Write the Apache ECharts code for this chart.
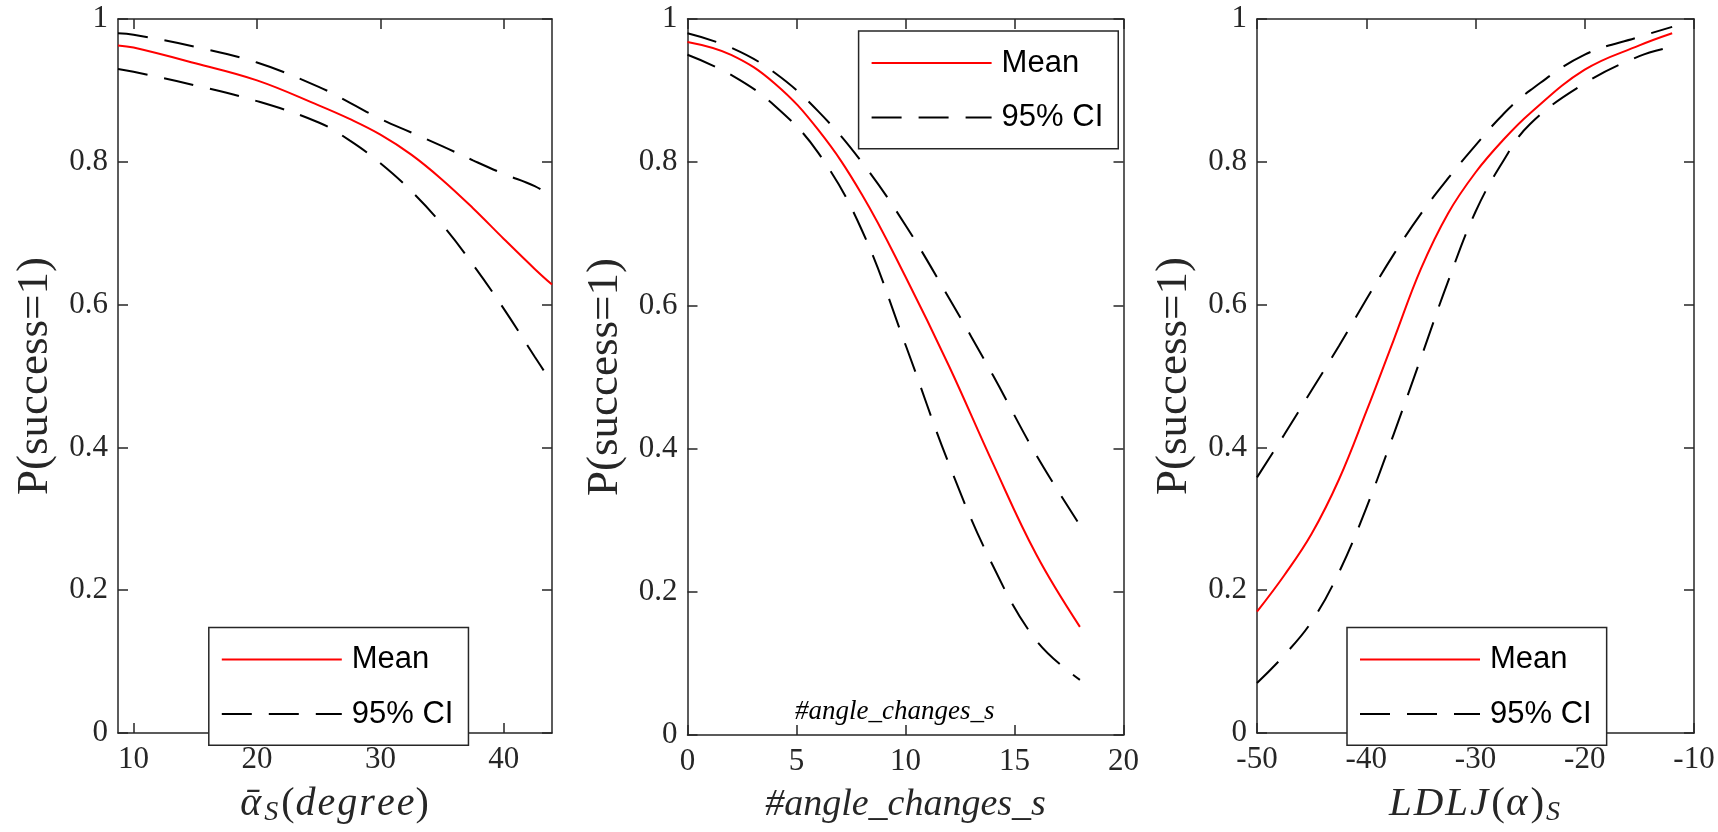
<!DOCTYPE html>
<html><head><meta charset="utf-8">
<script src="https://cdn.jsdelivr.net/npm/echarts@6/dist/echarts.min.js"></script>
<style>html,body{margin:0;padding:0;background:#fff}#c{width:1718px;height:832px}</style>
</head><body><div id="c"></div>
<script>
// ---------- Panel 1: mean angle ----------
const alphaX     = [8.74, 10, 15, 20, 25, 27.5, 30, 32.5, 35, 37.5, 40, 42.5, 43.9];
const alphaMean  = [0.963, 0.960, 0.938, 0.914, 0.879, 0.860, 0.838, 0.810, 0.775, 0.735, 0.692, 0.650, 0.628];
const alphaUpper = [0.980, 0.978, 0.961, 0.939, 0.905, 0.883, 0.860, 0.841, 0.822, 0.802, 0.783, 0.766, 0.751];
const alphaLower = [0.930, 0.926, 0.907, 0.885, 0.855, 0.830, 0.798, 0.759, 0.712, 0.656, 0.594, 0.527, 0.490];
// ---------- Panel 2: angle changes ----------
const angleX     = [0, 2, 4, 6, 8, 10, 12, 14, 16, 18];
const angleMean  = [0.968, 0.950, 0.910, 0.845, 0.755, 0.640, 0.515, 0.380, 0.252, 0.151];
const angleUpper = [0.980, 0.960, 0.925, 0.871, 0.800, 0.712, 0.610, 0.503, 0.391, 0.293];
const angleLower = [0.950, 0.922, 0.879, 0.813, 0.705, 0.545, 0.378, 0.237, 0.132, 0.077];
// ---------- Panel 3: LDLJ ----------
const ldljX      = [-50, -47.5, -45, -42.5, -40, -37.5, -35, -32.5, -30, -27.5, -25, -20, -15, -12];
const ldljMean   = [0.170, 0.221, 0.279, 0.355, 0.450, 0.550, 0.650, 0.728, 0.785, 0.830, 0.868, 0.929, 0.963, 0.980];
const ldljUpper  = [0.358, 0.418, 0.480, 0.542, 0.607, 0.670, 0.727, 0.777, 0.823, 0.866, 0.900, 0.950, 0.975, 0.989];
const ldljLower  = [0.070, 0.109, 0.156, 0.225, 0.315, 0.418, 0.525, 0.633, 0.730, 0.800, 0.853, 0.910, 0.948, 0.961];
// ---------- tick labels ----------
const xTicks1 = [10, 20, 30, 40];
const xTicks2 = [0, 5, 10, 15, 20];
const xTicks3 = [-50, -40, -30, -20, -10];
const xRange1 = [8.74, 43.9];
const xRange2 = [0, 20];
const xRange3 = [-50, -10];
const legendNames = ['Mean', '95% CI'];
const yLabel = 'P(success=1)';
const titleText = '#angle_changes_s';

const AX = '#262626';
const SERIF = '"Liberation Serif", "DejaVu Serif", serif';
const SANS = '"Liberation Sans", Arial, sans-serif';

const zip = (xs, ys) => xs.map((x, i) => [x, ys[i]]);

const gridDefs = [
  {left: 118, top: 19, width: 434, height: 716},
  {left: 687.5, top: 19, width: 436, height: 716},
  {left: 1257, top: 19, width: 437, height: 716}
];

function richFor(size) {
  return {
    m: {fontFamily: SERIF, fontSize: size, fontStyle: 'italic', color: AX, lineHeight: 46, verticalAlign: 'top'},
    k: {fontFamily: SERIF, fontSize: size, fontStyle: 'italic', color: AX, lineHeight: 46, verticalAlign: 'top', padding: [0, 2, 0, 0]},
    g: {fontFamily: SERIF, fontSize: size, fontStyle: 'normal', color: AX, lineHeight: 46, verticalAlign: 'top', padding: [0, 1, 0, 1]},
    s: {fontFamily: SERIF, fontSize: 28, fontStyle: 'italic', color: AX, lineHeight: 46, padding: [15, 2, 0, 1], verticalAlign: 'top'}
  };
}
const xNames = [
  '{k|ᾱ}{s|S}{g|(}{k|d}{k|e}{k|g}{k|r}{k|e}{m|e}{g|)}',
  '{m|#angle_changes_s}',
  '{k|L}{k|D}{k|L}{k|J}{g|(}{k|α}{g|)}{s|S}'
];
const xNameSizes = [40, 38, 41];
const xRanges = [xRange1, xRange2, xRange3];
const xTicks = [xTicks1, xTicks2, xTicks3];

const axisLine = {show: true, onZero: false, lineStyle: {color: AX, width: 1.5}};
const tick = {show: true, inside: true, length: 10, lineStyle: {color: AX, width: 1.5}};
const xAxis = [], yAxis = [];
for (let i = 0; i < 3; i++) {
  xAxis.push({
    type: 'value', gridIndex: i, position: 'bottom', min: xRanges[i][0], max: xRanges[i][1],
    axisLine, splitLine: {show: false},
    axisTick: Object.assign({customValues: xTicks[i]}, tick),
    axisLabel: {show: true, customValues: xTicks[i], margin: 11, fontFamily: SERIF, fontSize: 31, color: AX},
    name: xNames[i], nameLocation: 'middle', nameGap: 51,
    nameTextStyle: {rich: richFor(xNameSizes[i])}
  });
  xAxis.push({
    type: 'value', gridIndex: i, position: 'top', min: xRanges[i][0], max: xRanges[i][1],
    axisLine, splitLine: {show: false},
    axisTick: Object.assign({customValues: xTicks[i]}, tick),
    axisLabel: {show: false}
  });
  yAxis.push({
    type: 'value', gridIndex: i, position: 'left', min: 0, max: 1, interval: 0.2,
    axisLine, splitLine: {show: false}, axisTick: tick,
    axisLabel: {show: true, margin: 10, fontFamily: SERIF, fontSize: 31, color: AX},
    name: yLabel, nameLocation: 'middle', nameRotate: 90, nameGap: 60,
    nameTextStyle: {fontFamily: SERIF, fontSize: 45, color: AX}
  });
  yAxis.push({
    type: 'value', gridIndex: i, position: 'right', min: 0, max: 1, interval: 0.2,
    axisLine, splitLine: {show: false}, axisTick: tick,
    axisLabel: {show: false}
  });
}

const panels = [
  [alphaX, alphaMean, alphaUpper, alphaLower],
  [angleX, angleMean, angleUpper, angleLower],
  [ldljX, ldljMean, ldljUpper, ldljLower]
];
const series = [];
panels.forEach((p, i) => {
  const base = {type: 'line', xAxisIndex: 2 * i, yAxisIndex: 2 * i, symbol: 'none',
    smooth: 0.4, animation: false};
  const dash = {color: '#000', width: 2, type: [30, 17]};
  series.push(Object.assign({}, base, {name: legendNames[1], data: zip(p[0], p[2]), lineStyle: dash, itemStyle: {color: '#000'}}));
  series.push(Object.assign({}, base, {name: legendNames[1], data: zip(p[0], p[3]), lineStyle: dash, itemStyle: {color: '#000'}}));
  series.push(Object.assign({}, base, {name: legendNames[0], data: zip(p[0], p[1]), z: 3,
    lineStyle: {color: '#ff0000', width: 2}, itemStyle: {color: '#ff0000'}}));
});

const legendBase = {
  orient: 'vertical', data: legendNames, selectedMode: false,
  itemWidth: 120, itemHeight: 20, itemGap: 23.5,
  padding: [16.5, 15, 15.8, 12],
  itemStyle: {opacity: 0},
  borderColor: AX, borderWidth: 1.5, borderRadius: 0, backgroundColor: '#fff',
  textStyle: {fontFamily: SANS, fontSize: 31, color: '#000', lineHeight: 20, padding: [0, 0, 0, 5]}
};
const legend = [
  Object.assign({}, legendBase, {left: 208.8, top: 627.5}),
  Object.assign({}, legendBase, {left: 858.6, top: 31}),
  Object.assign({}, legendBase, {left: 1347, top: 627.5})
];

const chart = echarts.init(document.getElementById('c'), null, {renderer: 'canvas'});
chart.setOption({
  animation: false,
  backgroundColor: '#fff',
  title: {text: titleText, left: 795, top: 698, padding: 0,
    textStyle: {fontFamily: SERIF, fontStyle: 'italic', fontWeight: 'normal', fontSize: 27, color: '#000', lineHeight: 27}},
  grid: gridDefs,
  xAxis, yAxis, series, legend
});
</script></body></html>
